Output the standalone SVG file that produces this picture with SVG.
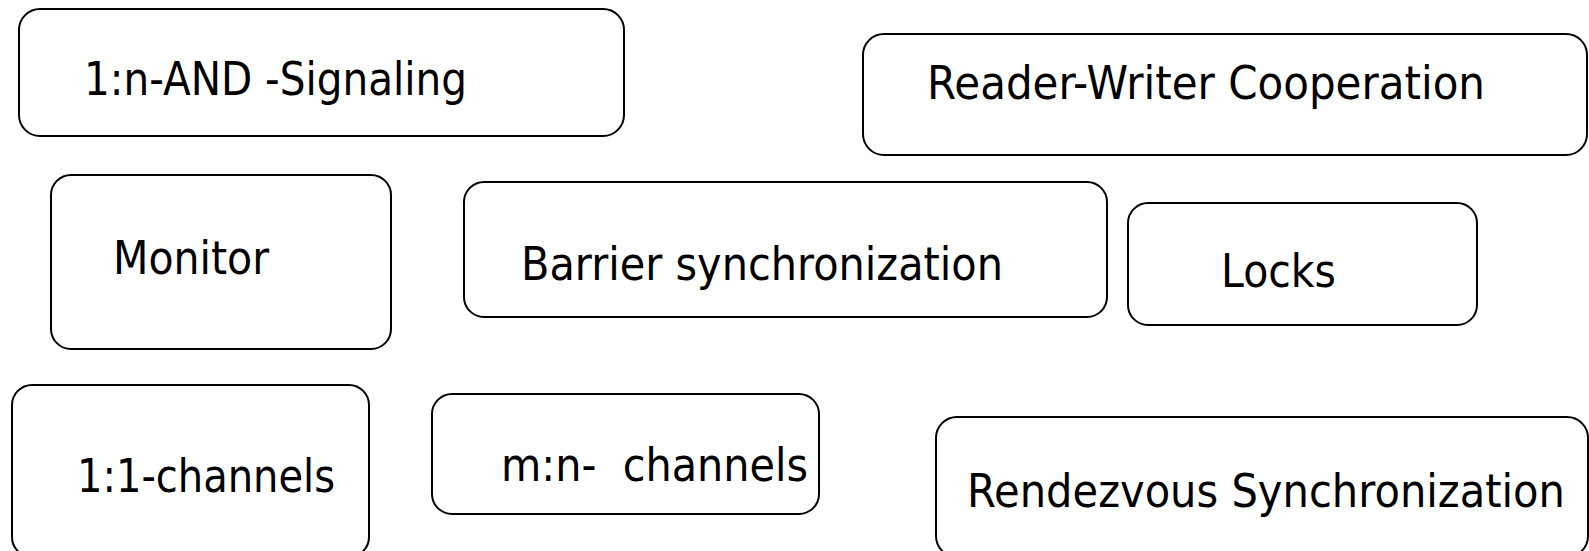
<svg xmlns="http://www.w3.org/2000/svg" width="1589" height="551" viewBox="0 0 1589 551">
<style>
.box{fill:#fff;stroke:#000;stroke-width:2}
.lbl{font-family:"DejaVu Sans","Liberation Sans",sans-serif;font-size:46px;fill:#000;white-space:pre}
</style>
<rect width="1589" height="551" fill="#fff"/>
<g id="connectors"></g>
<g id="n-signaling">
<rect class="box" x="19" y="9" width="605" height="127" rx="21"/>
<text class="lbl" x="84" y="95" textLength="383" lengthAdjust="spacingAndGlyphs">1:n-AND -Signaling</text>
</g>
<g id="n-readerwriter">
<rect class="box" x="863" y="34" width="724" height="121" rx="21"/>
<text class="lbl" x="927" y="99" textLength="558" lengthAdjust="spacingAndGlyphs">Reader-Writer Cooperation</text>
</g>
<g id="n-monitor">
<rect class="box" x="51" y="175" width="340" height="174" rx="20"/>
<text class="lbl" x="113" y="274" textLength="156" lengthAdjust="spacingAndGlyphs">Monitor</text>
</g>
<g id="n-barrier">
<rect class="box" x="464" y="182" width="643" height="135" rx="20"/>
<text class="lbl" x="521" y="280" textLength="482" lengthAdjust="spacingAndGlyphs">Barrier synchronization</text>
</g>
<g id="n-locks">
<rect class="box" x="1128" y="203" width="349" height="122" rx="20"/>
<text class="lbl" x="1221" y="287" textLength="115" lengthAdjust="spacingAndGlyphs">Locks</text>
</g>
<g id="n-11channels">
<rect class="box" x="12" y="385" width="357" height="172" rx="20"/>
<text class="lbl" x="77" y="492" textLength="258" lengthAdjust="spacingAndGlyphs">1:1-channels</text>
</g>
<g id="n-mnchannels">
<rect class="box" x="432" y="394" width="387" height="120" rx="20"/>
<text class="lbl" x="501" y="481" textLength="307" lengthAdjust="spacingAndGlyphs">m:n-  channels</text>
</g>
<g id="n-rendezvous">
<rect class="box" x="936" y="417" width="652" height="140" rx="21"/>
<text class="lbl" x="967" y="507" textLength="598" lengthAdjust="spacingAndGlyphs">Rendezvous Synchronization</text>
</g>
</svg>
